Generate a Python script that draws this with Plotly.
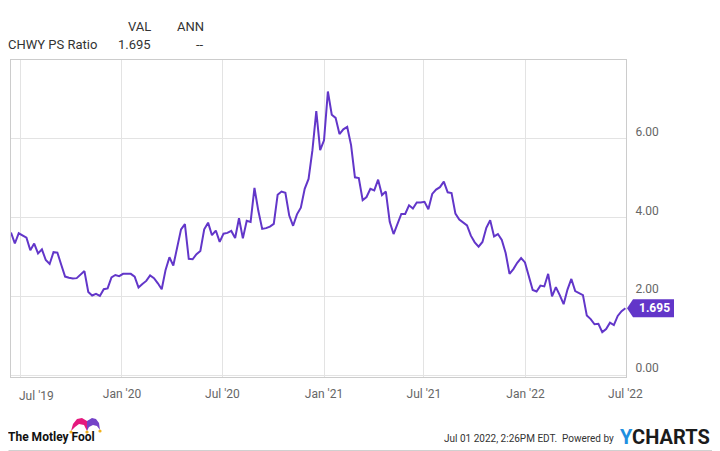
import pandas as pd
import plotly.graph_objects as go

# ---------------- data ----------------
series_name = "CHWY PS Ratio"
start_date = "2019-06-14"
end_date = "2022-07-01"
ps_ratio = [
    3.62, 3.34, 3.60, 3.54, 3.49, 3.17, 3.34, 3.09, 3.19, 2.92,
    2.82, 3.12, 3.11, 2.80, 2.50, 2.47, 2.45, 2.46, 2.56, 2.64,
    2.11, 2.02, 2.06, 2.01, 2.18, 2.20, 2.48, 2.54, 2.51, 2.57,
    2.57, 2.57, 2.50, 2.22, 2.31, 2.39, 2.53, 2.46, 2.33, 2.18,
    2.67, 2.99, 2.78, 3.27, 3.70, 3.83, 2.95, 2.94, 3.07, 3.15,
    3.70, 3.87, 3.55, 3.67, 3.38, 3.59, 3.61, 3.66, 3.48, 3.98,
    3.47, 3.92, 3.89, 4.75, 4.17, 3.71, 3.73, 3.77, 3.84, 4.58,
    4.66, 4.63, 4.05, 3.79, 4.08, 4.25, 4.73, 4.98, 5.71, 6.70,
    5.71, 5.96, 7.20, 6.61, 6.53, 6.12, 6.24, 6.30, 5.84, 5.02,
    5.00, 4.44, 4.52, 4.73, 4.69, 4.96, 4.57, 4.66, 3.89, 3.58,
    3.82, 4.09, 4.09, 4.31, 4.23, 4.38, 4.38, 4.40, 4.21, 4.60,
    4.71, 4.77, 4.91, 4.64, 4.62, 4.10, 3.95, 3.87, 3.80, 3.54,
    3.37, 3.26, 3.38, 3.74, 3.93, 3.52, 3.58, 3.43, 3.10, 2.57,
    2.69, 2.85, 2.97, 2.86, 2.49, 2.16, 2.12, 2.27, 2.25, 2.57,
    2.00, 2.23, 2.03, 1.80, 2.17, 2.44, 2.13, 2.08, 2.03, 1.51,
    1.42, 1.29, 1.30, 1.09, 1.17, 1.33, 1.27, 1.50, 1.62, 1.695,
]
dates = pd.date_range(start_date, periods=len(ps_ratio), freq="7D")

tick_dates = ["2019-07-01", "2020-01-01", "2020-07-01", "2021-01-01",
              "2021-07-01", "2022-01-01", "2022-07-01"]
tick_labels = ["Jul '19", "Jan '20", "Jul '20", "Jan '21",
               "Jul '21", "Jan '22", "Jul '22"]
y_ticks = [0, 2, 4, 6]

header_cols = ["VAL", "ANN"]
ann_value = "--"
timestamp_text = "Jul 01 2022, 2:26PM EDT.  Powered by"

# ---------------- layout geometry ----------------
# the page body adds an 8px offset, so the figure is drawn 8px smaller
OFF = 8
W, H = 720 - OFF, 451 - OFF
ML, MR, MT, MB = 3, 94, 52, 74
PW, PH = W - ML - MR, H - MT - MB

def px(x):  # x in reference-image pixels -> paper
    return (x - OFF - ML) / PW

def py(y):  # y in reference-image pixels -> paper
    return (H - MB - (y - OFF)) / PH

LINE = "#6236c9"
FONT = "Roboto"

fig = go.Figure()
fig.add_trace(go.Scatter(
    x=dates, y=ps_ratio, mode="lines",
    line=dict(color=LINE, width=2),
    hoverinfo="skip", showlegend=False,
))

fig.update_layout(
    width=W, height=H,
    margin=dict(l=ML, r=MR, t=MT, b=MB, pad=0),
    paper_bgcolor="white", plot_bgcolor="white",
    font=dict(family=FONT, size=12, color="#555555"),
    showlegend=False,
)
fig.update_xaxes(
    type="date",
    range=[dates[0], pd.Timestamp(end_date) + pd.Timedelta(days=1)],
    tickvals=tick_dates,
    ticktext=[""] + tick_labels[1:],
    showgrid=True, gridcolor="#e3e3e3", gridwidth=1,
    showline=True, mirror=True, linecolor="#cccccc", linewidth=1,
    ticks="", tickfont=dict(size=12, color="#666666"),
    ticklabelstandoff=6,
    zeroline=False,
)
fig.update_yaxes(
    side="right",
    range=[-0.05, 8.0],
    tickvals=y_ticks, tickformat=".2f",
    showgrid=True, gridcolor="#e3e3e3", gridwidth=1,
    showline=True, mirror=True, linecolor="#cccccc", linewidth=1,
    ticks="", tickfont=dict(size=12, color="#666666"),
    ticklabelshift=-7, ticklabelstandoff=6,
    zeroline=False,
)

def txt(x, y, text, xanchor, font, **kw):
    fig.add_annotation(x=x, y=y, xref="paper", yref="paper", text=text,
                       showarrow=False, xanchor=xanchor, yanchor="middle",
                       borderpad=0, borderwidth=0, font=font, **kw)

# first x label, shifted inside like the original
fig.add_annotation(x=tick_dates[0], xref="x", y=0, yref="paper",
                   text=tick_labels[0], showarrow=False,
                   xanchor="left", yanchor="top", xshift=-1, yshift=-12,
                   borderpad=0, borderwidth=0,
                   font=dict(size=12, color="#666666"))

# last value tag
last = ps_ratio[-1]
fig.add_shape(type="path", xref="paper", yref="y",
              xsizemode="pixel", ysizemode="pixel",
              xanchor=1, yanchor=last,
              path="M1,0 L7,9 L48,9 L48,-9 L7,-9 Z",
              fillcolor=LINE, line=dict(width=0), layer="above")
fig.add_annotation(x=1, xref="paper", y=last, yref="y",
                   text="<b>%.3f</b>" % last, showarrow=False,
                   xanchor="center", yanchor="middle", xshift=28,
                   borderpad=0, borderwidth=0,
                   font=dict(size=12, color="white"))

# header table
hdr_font = dict(size=13, color="#333333", family=FONT)
txt(px(151), py(26), header_cols[0], "right", hdr_font)
txt(px(204), py(26), header_cols[1], "right", hdr_font)
txt(px(8), py(44.5), series_name, "left", hdr_font)
txt(px(151), py(44.5), "%.3f" % last, "right", hdr_font)
txt(px(204), py(44.5), ann_value, "right", hdr_font)

# footer
txt(px(8), py(437), "<b>The Motley Fool</b>", "left",
    dict(size=12, color="#111111", family=FONT))
txt(px(614), py(438), timestamp_text, "right",
    dict(size=10, color="#333333", family=FONT))
txt(px(710), py(437),
    "<b><span style='color:#1f8fe0'>Y</span>CHARTS</b>", "right",
    dict(size=20, color="#1b1b1b", family=FONT))

# jester hat (logo decoration)
def pth(pts):
    s = "M%.4f,%.4f" % (px(pts[0][0]), py(pts[0][1]))
    for a, b in pts[1:]:
        s += " L%.4f,%.4f" % (px(a), py(b))
    return s + " Z"

fig.add_shape(type="path", xref="paper", yref="paper",
              path=pth([(71, 431), (73, 424), (77, 419), (82, 418), (87, 421),
                        (87, 431), (84, 425), (79, 424), (75, 427)]),
              fillcolor="#e5197e", line=dict(width=0))
fig.add_shape(type="path", xref="paper", yref="paper",
              path=pth([(87, 421), (92, 418), (96, 419), (99, 423), (100, 430),
                        (97, 426), (93, 425), (89, 427), (87, 431)]),
              fillcolor="#7442c8", line=dict(width=0))
for cx, cy in [(71, 432), (87, 432), (100, 431)]:
    fig.add_shape(type="circle", xref="paper", yref="paper",
                  x0=px(cx - 1.6), x1=px(cx + 1.6), y0=py(cy + 1.6), y1=py(cy - 1.6),
                  fillcolor="#f2b21b", line=dict(width=0))

# outer frame (right and bottom edges)
fig.add_shape(type="line", xref="paper", yref="paper",
              x0=px(719.5), x1=px(719.5), y0=py(450.5), y1=py(8.5),
              line=dict(color="#d0d0d0", width=1))
fig.add_shape(type="line", xref="paper", yref="paper",
              x0=px(8.5), x1=px(719.5), y0=py(450.5), y1=py(450.5),
              line=dict(color="#d0d0d0", width=1))

fig.write_html("out.html")
